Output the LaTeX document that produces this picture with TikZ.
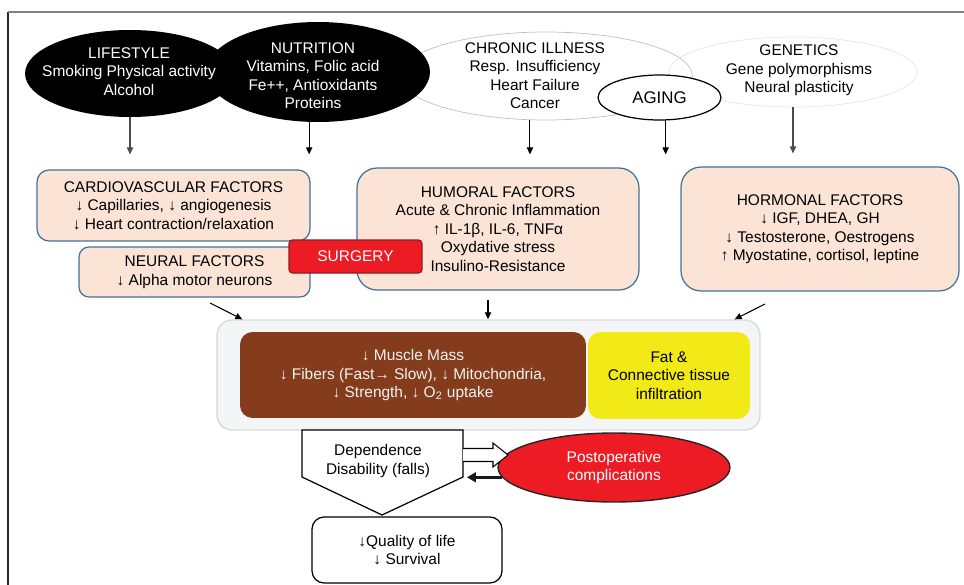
\documentclass[tikz,border=0pt]{standalone}
\usepackage{fontspec}
\setmainfont{Liberation Sans}
\usetikzlibrary{shapes.geometric,arrows.meta}
\definecolor{boxPeach}{HTML}{FBE3D6}
\definecolor{boxBlue}{HTML}{41719C}
\definecolor{surgRed}{HTML}{ED1C24}
\definecolor{surgDark}{HTML}{8E1B1E}
\definecolor{muscleBrown}{HTML}{843C1C}
\definecolor{fatYellow}{HTML}{F2EA17}
\definecolor{panelFill}{HTML}{F4F5F7}
\definecolor{panelLine}{HTML}{D8DADD}
\begin{document}
\begin{tikzpicture}[x=0.02cm, y=-0.02cm, font=\fontsize{8.8}{10.5}\selectfont,
txt/.style={align=center, inner sep=0pt},
blob/.style={ellipse, inner sep=0pt},
factor/.style={draw=boxBlue, fill=boxPeach, line width=0.7pt, inner sep=0pt, align=center},
arr/.style={-{Triangle[length=4pt,width=3.6pt]}, line width=0.6pt}]
\useasboundingbox (0,0) rectangle (964,585);
\draw[black!85, line width=0.8pt] (8,585) -- (8,12);
\draw[black!50, line width=0.8pt] (8,12) -- (964,12);
\node[blob, draw=black!25, minimum width=5.86cm, minimum height=1.76cm] (chronic) at (546,76){};
\node[blob, draw=black!10, minimum width=4.96cm, minimum height=1.4cm] (genetics) at (793,72){};
\node[txt] (chronicTxt) at (535,75.5){CHRONIC ILLNESS\\Resp. Insufficiency\\Heart Failure\\Cancer};
\node[txt] (geneticsTxt) at (799,70.5){GENETICS\\Gene polymorphisms\\Neural plasticity};
\node[blob, draw, fill=white, line width=0.7pt, minimum width=2.46cm, minimum height=0.9cm, font=\fontsize{9.6}{11}\selectfont] (aging) at (659.5,97.5){AGING};
\node[blob, fill=black, minimum width=4.2cm, minimum height=1.74cm] (lifestyle) at (130,73.5){};
\node[blob, fill=black, minimum width=4.48cm, minimum height=2cm] (nutrition) at (318,72){};
\node[txt, text=white] (lifestyleTxt) at (129,71.5){LIFESTYLE\\Smoking Physical activity\\Alcohol};
\node[txt, text=white] (nutritionTxt) at (313,75.5){NUTRITION\\Vitamins, Folic acid\\Fe++, Antioxidants\\Proteins};
\node[factor, rounded corners=0.24cm, minimum width=5.46cm, minimum height=1.42cm] (cardio) at (173.5,205.5){CARDIOVASCULAR FACTORS\\↓ Capillaries, ↓ angiogenesis\\↓ Heart contraction/relaxation};
\node[factor, rounded corners=0.2cm, minimum width=4.62cm, minimum height=1cm] (neural) at (194.5,272){NEURAL FACTORS\\↓ Alpha motor neurons};
\node[factor, rounded corners=0.4cm, minimum width=5.64cm, minimum height=2.44cm] (humoral) at (498,229){HUMORAL FACTORS\\Acute \& Chronic Inflammation\\↑ IL-1β, IL-6, TNFα\\Oxydative stress\\Insulino-Resistance};
\node[factor, rounded corners=0.4cm, minimum width=5.56cm, minimum height=2.48cm] (hormonal) at (820,229){HORMONAL FACTORS\\↓ IGF, DHEA, GH\\↓ Testosterone, Oestrogens\\↑ Myostatine, cortisol, leptine};
\node[fill=surgRed, draw=surgDark, line width=0.7pt, rounded corners=2pt, minimum width=2.66cm, minimum height=0.66cm, inner sep=0pt, text=white] (surgery) at (355.5,256.5){SURGERY};
\draw[arr, black!70, shorten >=0.3cm](lifestyle.south) -- (lifestyle.south |- cardio.north);
\draw[arr, shorten >=0.3cm](nutrition.-100) -- (nutrition.-100 |- cardio.north);
\draw[arr, shorten >=0.26cm](chronic.-110) -- (chronic.-110 |- humoral.north);
\draw[arr, shorten >=0.26cm](aging.-75) -- (aging.-75 |- humoral.north);
\draw[arr, black!70, shorten >=0.26cm](genetics.south) -- (genetics.south |- hormonal.north);
\node[draw=panelLine, fill=panelFill, line width=0.8pt, rounded corners=0.3cm, minimum width=10.86cm, minimum height=2.2cm] (panel) at (488.5,375){};
\node[fill=muscleBrown, rounded corners=0.25cm, minimum width=6.92cm, minimum height=1.72cm, inner sep=0pt, align=center, text=white!95!black] (muscle) at (413,375){↓ Muscle Mass\\↓ Fibers (Fast→ Slow), ↓ Mitochondria,\\↓ Strength, ↓ O\textsubscript{2} uptake};
\node[fill=fatYellow, rounded corners=0.25cm, minimum width=3.24cm, minimum height=1.74cm, inner sep=0pt, align=center] (fat) at (669,375.5){Fat \&\\Connective tissue\\infiltration};
\coordinate (neuralOut) at (210,303);
\coordinate (humoralOut) at (488,300);
\coordinate (hormonalOut) at (765,304);
\draw[arr](neuralOut) -- ([xshift=0.52cm]panel.north west);
\draw[arr](humoralOut) -- (humoralOut |- panel.north);
\draw[arr](hormonalOut) -- ([xshift=-0.52cm]panel.north east);
\draw[fill=white, line width=0.7pt] (302,430) -- (463,430) -- (463,477) -- (382,515) -- (302,477) -- cycle;
\node[txt] (dependence) at (378,461){Dependence\\Disability (falls)};
\coordinate (depR) at (463,455);
\coordinate (depRb) at (463,477);
\node[blob, fill=surgRed, draw=black!85, line width=0.8pt, minimum width=4.64cm, minimum height=1.38cm, align=center, text=white] (post) at (614,467.5){Postoperative\\complications};
\draw[fill=white, line width=0.6pt](depR) ++(0,-6.5) -- ++(30,0) -- ++(0,-5.5) -- ++(15,12) -- ++(-15,12) -- ++(0,-5.5) -- ++(-30,0);
\draw[-{Triangle[length=5pt,width=5.5pt]}, line width=1.5pt, black!90, shorten >=0.08cm](post.185) -- (post.185 -| depRb);
\node[draw, line width=0.7pt, rounded corners=0.24cm, minimum width=3.8cm, minimum height=1.32cm, inner sep=0pt, align=center] (qol) at (407,550){↓Quality of life\\↓ Survival};
\end{tikzpicture}
\end{document}
